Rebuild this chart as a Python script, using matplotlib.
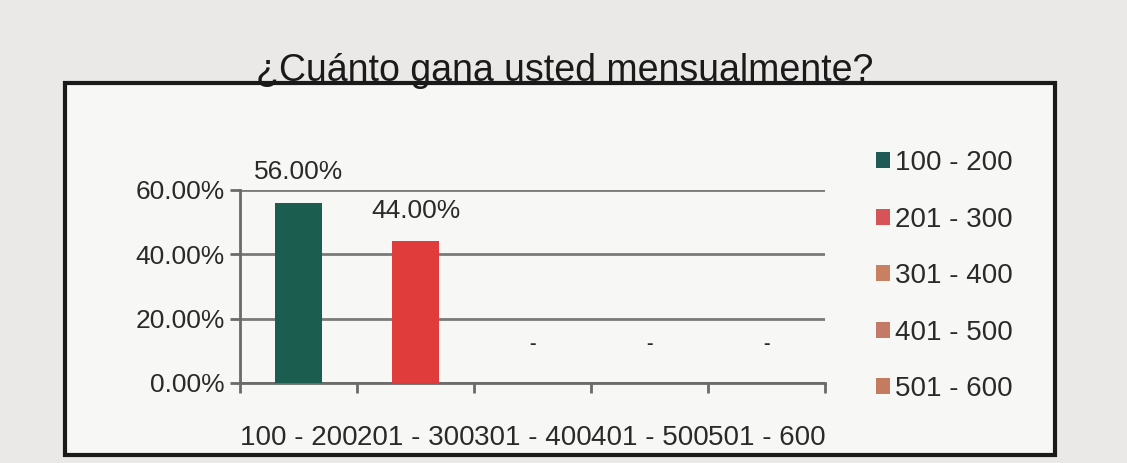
import matplotlib
matplotlib.use("Agg")
import matplotlib.pyplot as plt
from matplotlib.patches import Rectangle, Patch
from matplotlib.ticker import FuncFormatter

categories = ["100 - 200", "201 - 300", "301 - 400", "401 - 500", "501 - 600"]
values = [56.0, 44.0, 0.0, 0.0, 0.0]
colors = ["#1b5e4f", "#e03c3c", "#c97b52", "#c4775a", "#c47a56"]
legend_colors = ["#1f5a56", "#d65458", "#c98062", "#c47a66", "#c57b60"]
yticks = [0, 20, 40, 60]
title = "¿Cuánto gana usted mensualmente?"

plt.rcParams['font.family'] = ['Liberation Sans', 'DejaVu Sans']

fig = plt.figure(figsize=(11.27, 4.63), dpi=100)
fig.patch.set_facecolor("#ebe9e7")

frame = Rectangle((0.058, 0.017), 0.878, 0.804, transform=fig.transFigure,
                  facecolor="#f7f7f5", edgecolor="#1a1a1a", linewidth=3, zorder=-5)
fig.patches.append(frame)

fig.text(0.501, 0.846, title, ha="center", va="center", fontsize=27, color="#1a1a1a")

ax = fig.add_axes([0.213, 0.173, 0.519, 0.417])
ax.set_zorder(2)
ax.set_facecolor("none")
x = list(range(len(categories)))
bars = ax.bar(x, values, width=0.4, color=colors, zorder=3)

ax.set_xlim(-0.5, len(categories) - 0.5)
ax.set_ylim(0, 60)
ax.set_yticks(yticks)
ax.yaxis.set_major_formatter(FuncFormatter(lambda v, p: f"{v:.2f}%"))
ax.grid(axis="y", color="#7a7a7a", linewidth=2, zorder=0)
ax.set_xticks(x)
ax.set_xticklabels(categories)
ax.set_xticks([i - 0.5 for i in range(len(categories) + 1)], minor=True)
ax.tick_params(axis="x", which="major", length=0, pad=30, labelsize=20, colors="#2a2a2a")
ax.tick_params(axis="x", which="minor", length=7, width=2, color="#6a6a6a")
ax.tick_params(axis="y", length=7, width=2, color="#6a6a6a", labelsize=19, labelcolor="#2a2a2a", pad=4)
for s in ["top", "right"]:
    ax.spines[s].set_visible(False)
for s in ["left", "bottom"]:
    ax.spines[s].set_color("#6a6a6a")
    ax.spines[s].set_linewidth(2)

for xi, v in zip(x, values):
    if v > 0:
        ax.annotate(f"{v:.2f}%", (xi, v), xytext=(0, 22), textcoords="offset points",
                    ha="center", va="center", fontsize=19, color="#2a2a2a", clip_on=False)
    else:
        ax.annotate("-", (xi, v), xytext=(0, 28), textcoords="offset points",
                    ha="center", va="center", fontsize=14, fontweight="bold",
                    color="#2a2a2a", clip_on=False)

handles = [Patch(facecolor=c) for c in legend_colors]
leg = fig.legend(handles, categories, loc="upper left", bbox_to_anchor=(0.755, 0.73),
           frameon=False, fontsize=20, labelspacing=1.1, handlelength=0.5,
           handleheight=0.5, handletextpad=0.2, labelcolor="#2a2a2a")
leg.set_zorder(3)

fig.savefig("out.png", dpi=100, facecolor=fig.get_facecolor())
